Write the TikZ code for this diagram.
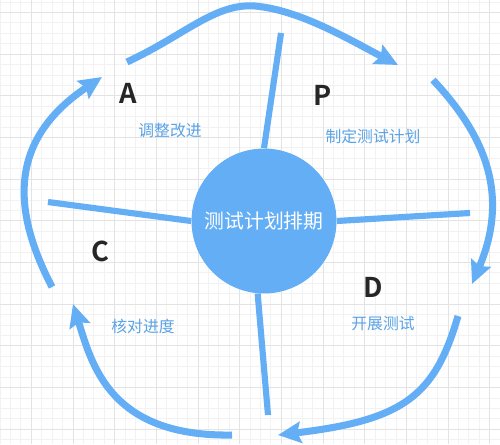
\documentclass[tikz,border=0pt]{standalone}
\usepackage{fontspec}
\usepackage{tikz}
\usetikzlibrary{arrows.meta}
\newfontfamily\cjk{Noto Sans CJK SC}[BoldFont={Noto Sans CJK SC Bold}]
\definecolor{cycleblue}{HTML}{64AEF6}
\definecolor{noteblue}{HTML}{5AA3E6}
\colorlet{gridminor}{black!5}
\colorlet{gridmajor}{black!11}
\tikzset{
  pdca/arc/.style={cycleblue, line width=4pt, -{Stealth[length=13pt,width=12pt,inset=2pt]}},
  pdca/spoke/.style={cycleblue, line width=3.5pt},
  pdca/letter/.style={font=\cjk\bfseries\fontsize{15.5}{16}\selectfont, text=black!85},
  pdca/note/.style={font=\cjk\fontsize{9}{10}\selectfont, text=noteblue}
}

\begin{document}
\begin{tikzpicture}[x=0.02cm, y=-0.02cm]
  \useasboundingbox (0,0) rectangle (500,444);
  \fill[white] (0,0) rectangle (500,444);
\foreach \k in {0,...,48} {\pgfmathsetmacro\gx{\k*10.42}
  \draw[gridminor, line width=0.5pt] (\gx,0) -- (\gx,444);}
\foreach \k in {0,...,42} {\pgfmathsetmacro\gy{2+\k*10.42}
  \draw[gridminor, line width=0.5pt] (0,\gy) -- (500,\gy);}
\foreach \k in {0,...,11} {\pgfmathsetmacro\gx{31.3+\k*41.67}
  \draw[gridmajor, line width=0.5pt] (\gx,0) -- (\gx,444);}
\foreach \k in {0,...,10} {\pgfmathsetmacro\gy{12.4+\k*41.67}
  \draw[gridmajor, line width=0.5pt] (0,\gy) -- (500,\gy);}

\node[circle, fill=cycleblue, minimum size=2.9cm, inner sep=0pt, text=white,
  font=\cjk\fontsize{11.3}{12}\selectfont] (core) at (264,221) {测试计划排期};

\coordinate (spokeN) at (281,33);
\coordinate (spokeW) at (48,202);
\coordinate (spokeE) at (470,213);
\coordinate (spokeS) at (268,415);
\draw[pdca/spoke] (core.north) -- (spokeN);
\draw[pdca/spoke] (core.west) -- (spokeW);
\draw[pdca/spoke] (core.east) -- (spokeE);
\draw[pdca/spoke] (core.265) -- (spokeS);

\coordinate (a1) at (127,62);  \coordinate (a2) at (398,65);
\coordinate (p1) at (433,80);  \coordinate (p2) at (472,284);
\coordinate (d1) at (458,316); \coordinate (d2) at (278,435);
\coordinate (c1) at (232,435); \coordinate (c2) at (73,304);
\coordinate (b1) at (52,287);  \coordinate (b2) at (102,77);
\draw[pdca/arc] (a1) .. controls (185,35) and (215,3) .. (255,6) .. controls (300,10) and (350,40) .. (a2);
\draw[pdca/arc] (p1) .. controls (480,130) and (512,190) .. (p2);
\draw[pdca/arc] (d1) .. controls (435,395) and (405,420) .. (d2);
\draw[pdca/arc] (c1) .. controls (110,437) and (92,365) .. (c2);
\draw[pdca/arc] (b1) .. controls (12,210) and (8,140) .. (b2);

\node[pdca/letter] (A) at (128,93) {A};
\node[pdca/letter] (P) at (323,95) {P};
\node[pdca/letter] (C) at (100,251) {C};
\node[pdca/letter] (D) at (373,287) {D};
\node[pdca/note] (adjust) at (170,131) {调整改进};
\node[pdca/note] (plan) at (373,136) {制定测试计划};
\node[pdca/note] (check) at (143,326) {核对进度};
\node[pdca/note] (run) at (383,324) {开展测试};
\end{tikzpicture}
\end{document}
